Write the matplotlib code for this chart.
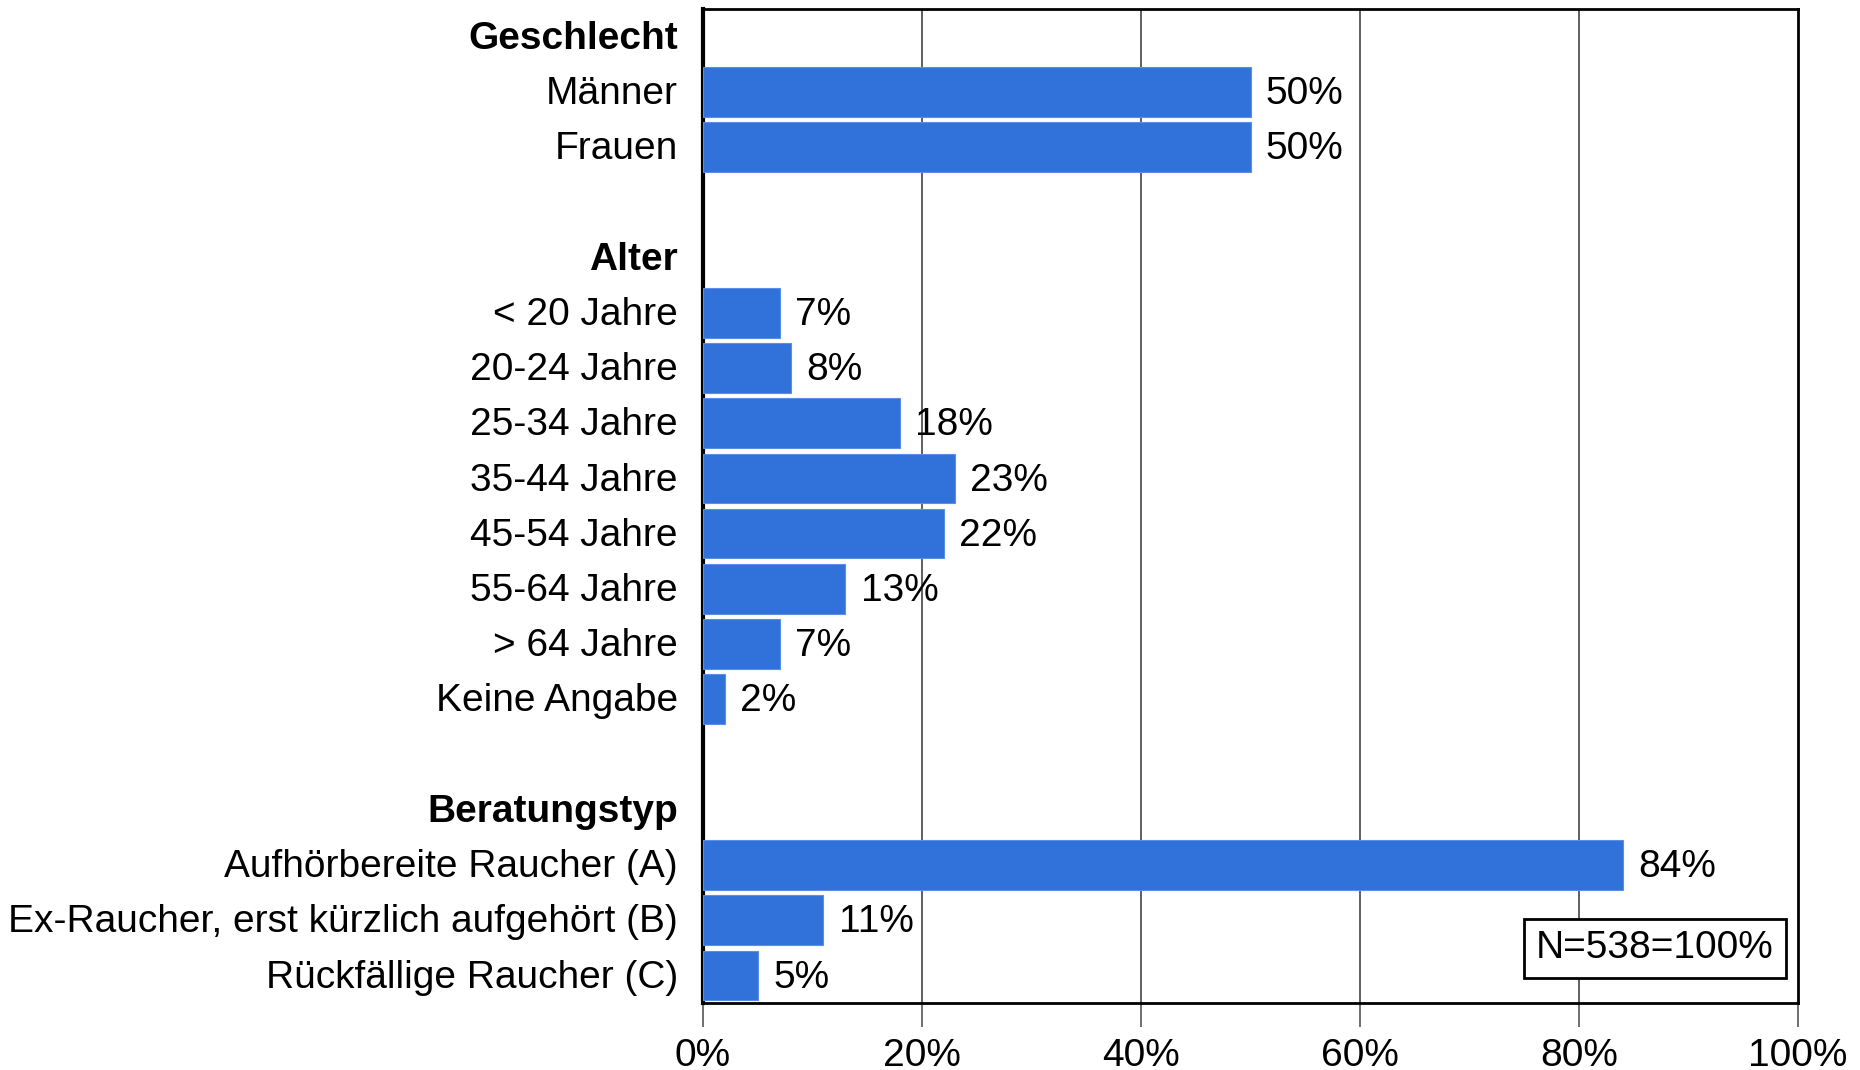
import numpy as np
from matplotlib import pyplot as plt

# Rows from top to bottom; None = header or blank row
labels = ["Geschlecht", "Männer", "Frauen", "",
          "Alter", "< 20 Jahre", "20-24 Jahre", "25-34 Jahre", "35-44 Jahre",
          "45-54 Jahre", "55-64 Jahre", "> 64 Jahre", "Keine Angabe", "",
          "Beratungstyp", "Aufhörbereite Raucher (A)",
          "Ex-Raucher, erst kürzlich aufgehört (B)", "Rückfällige Raucher (C)"]
values = [None, 50, 50, None,
          None, 7, 8, 18, 23, 22, 13, 7, 2, None,
          None, 84, 11, 5]
headers = ["Geschlecht", "Alter", "Beratungstyp"]
xticks = [0, 20, 40, 60, 80, 100]
note = "N=538=100%"

plt.rcParams['font.family'] = ['Liberation Sans', 'DejaVu Sans']
BLUE = '#3171DA'
FS = 28

fig = plt.figure(figsize=(18.6, 10.7), dpi=100)
ax = fig.add_axes([703 / 1860, 1 - 1003 / 1070, (1798 - 703) / 1860, (1003 - 9) / 1070])

ypos = np.arange(len(labels))
for y, v in zip(ypos, values):
    if v is None:
        continue
    ax.barh(y, v, height=0.9, color=BLUE, edgecolor='#5b8ee6', linewidth=0.8, zorder=3)
    ax.text(v + 1.4, y + 0.04, "%d%%" % v, va='center', ha='left', fontsize=FS, zorder=4)

ax.set_xlim(0, 100)
ax.set_ylim(len(labels) - 0.5, -0.5)

# category labels drawn as text so headers can be bold
ax.set_yticks([])
for y, lab in zip(ypos, labels):
    weight = 'bold' if lab in headers else 'normal'
    ax.text(-2.3, y + 0.04, lab, ha='right', va='center', fontsize=FS, fontweight=weight,
            clip_on=False)

ax.set_xticks(xticks)
ax.set_xticklabels(["%d%%" % t for t in xticks], fontsize=FS)
ax.tick_params(axis='x', length=17, width=1.2, color='#555555', pad=8)
for t in xticks[1:-1]:
    ax.axvline(t, color='#444444', linewidth=1.2, zorder=1)

for side in ['top', 'right', 'bottom']:
    ax.spines[side].set_linewidth(2)
ax.spines['left'].set_linewidth(3)

ax.text(0.978, 0.055, note, transform=ax.transAxes, ha='right', va='center', fontsize=FS,
        bbox=dict(boxstyle='square,pad=0.3', facecolor='white', edgecolor='black', linewidth=2),
        zorder=5)

fig.savefig("out.png", dpi=100)
